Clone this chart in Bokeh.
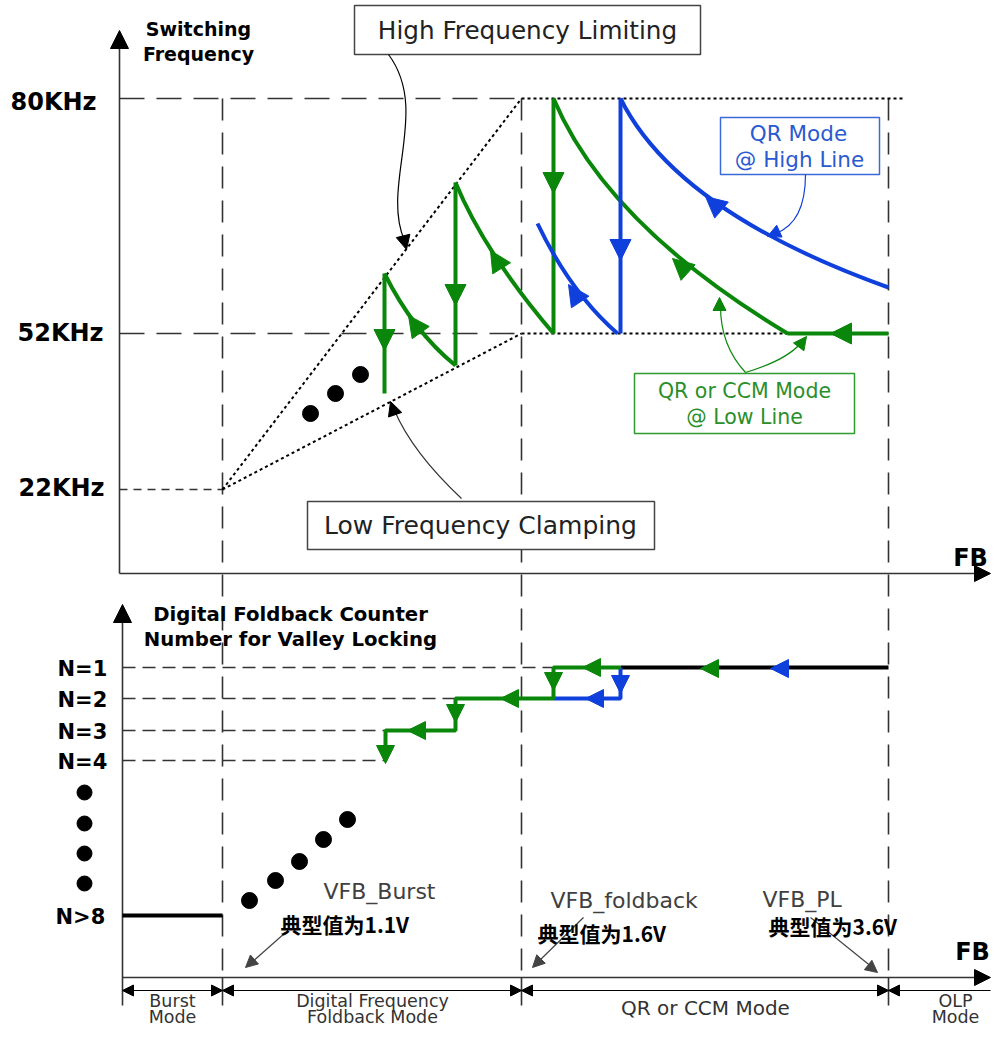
import math
from bokeh.plotting import figure
from bokeh.models import Range1d, ColumnDataSource, Arrow, NormalHead
from bokeh.core.properties import value
from bokeh.embed import file_html
from bokeh.resources import INLINE

# ---------------- data ----------------
# frequency levels (upper panel) and their schematic positions
freq_labels = ["80KHz", "52KHz", "22KHz"]
freq_y = [98, 333, 489]
freq_label_x = [10, 17, 18]

# FB thresholds
fb_x = [222, 521, 888]
fb_names = ["VFB_Burst", "VFB_foldback", "VFB_PL"]
fb_typ = ["典型值为1.1V", "典型值为1.6V", "典型值为3.6V"]

# valley-lock counter levels
n_labels = ["N=1", "N=2", "N=3", "N=4", "N>8"]
n_y = [667, 698, 730, 760, 915]

# low-line sawtooth teeth (green)
tooth_x = [384, 455, 553]
tooth_top = [273, 182, 98]
tooth_bot = [393, 365, 333]
# decay curves: start, control, end
g_curve_x0 = [384, 455, 553]
g_curve_y0 = [273, 182, 98]
g_curve_cx = [413, 484, 606]
g_curve_cy = [331, 252, 224]
g_curve_x1 = [455, 553, 787]
g_curve_y1 = [365, 333, 333]

# high-line (blue)
b_tooth_x = [620]
b_curve_x0 = [620, 537]
b_curve_y0 = [98, 223]
b_curve_cx = [676, 570]
b_curve_cy = [211, 292]
b_curve_x1 = [888, 617]
b_curve_y1 = [287, 333]

# lower panel step paths
g_step_x = [620, 553, 553, 455, 455, 385, 385]
g_step_y = [667, 667, 698, 698, 730, 730, 760]
b_step_x = [620, 620, 553]
b_step_y = [667, 698, 698]

mode_labels = [["Burst", "Mode"], ["Digital Frequency", "Foldback Mode"], ["QR or CCM Mode"], ["OLP", "Mode"]]

GREEN = "#0a870a"
BLUE = "#1040dc"
DARK = "#333333"

W, H = 991, 1028
p = figure(width=W, height=H, x_range=Range1d(0, W), y_range=Range1d(H, 0),
           output_backend="svg", toolbar_location=None, min_border=0,
           x_axis_location=None, y_axis_location=None)
p.grid.visible = False
p.outline_line_color = None
p.background_fill_color = "white"


def heads(tips, dirs, color, size):
    x0, y0, x1, y1 = [], [], [], []
    for (tx, ty), (dx, dy) in zip(tips, dirs):
        n = math.hypot(dx, dy)
        x0.append(tx - 3 * dx / n); y0.append(ty - 3 * dy / n)
        x1.append(tx); y1.append(ty)
    src = ColumnDataSource(dict(x0=x0, y0=y0, x1=x1, y1=y1))
    p.add_layout(Arrow(source=src, x_start="x0", y_start="y0", x_end="x1", y_end="y1",
                       line_alpha=0, line_width=0,
                       end=NormalHead(size=size, fill_color=color, line_color=color, line_width=1)))


def txt(xs, ys, texts, size, color="black", bold=False, align="center", font="DejaVu Sans"):
    p.text(x=xs, y=ys, text=texts, text_font=value(font), text_font_size=size,
           text_color=color, text_font_style="bold" if bold else "normal",
           text_align=align, text_baseline="middle")


top_y, axis1_y, axis2_y, tick_y = freq_y[0], 573, 977, 1005
bracket_y = 990
ax1_x, ax2_x = 119, 122
right_end = 990

# ---------- dashed reference lines ----------
p.segment(x0=[ax1_x, ax1_x], y0=freq_y[:2], x1=[fb_x[1], fb_x[1]], y1=freq_y[:2],
          line_dash="25 12", line_color=DARK, line_width=1.6)
p.segment(x0=fb_x, y0=[top_y] * 3, x1=fb_x, y1=[axis2_y] * 3,
          line_dash="22 12", line_color=DARK, line_width=1.6)
p.segment(x0=[ax1_x], y0=[freq_y[2]], x1=[fb_x[0]], y1=[freq_y[2]],
          line_dash="8 6", line_color=DARK, line_width=1.5)
p.segment(x0=[ax2_x] * 4, y0=n_y[:4], x1=[553, 455, 385, 385], y1=n_y[:4],
          line_dash="13 7", line_color=DARK, line_width=1.5)
# dotted limits
p.segment(x0=[fb_x[0], fb_x[0], fb_x[1], fb_x[1]], y0=[freq_y[2], freq_y[2], freq_y[0], freq_y[1]],
          x1=[fb_x[1], fb_x[1], 905, fb_x[2]], y1=[freq_y[0], freq_y[1], freq_y[0], freq_y[1]],
          line_dash="3 3", line_color="black", line_width=2)

# ---------- axes ----------
p.segment(x0=[ax1_x, ax1_x, ax2_x, ax2_x], y0=[45, axis1_y, 618, axis2_y],
          x1=[ax1_x, right_end - 8, ax2_x, right_end - 8], y1=[axis1_y, axis1_y, tick_y, axis2_y],
          line_color=DARK, line_width=1.6)
p.segment(x0=fb_x, y0=[axis2_y] * 3, x1=fb_x, y1=[tick_y] * 3, line_color=DARK, line_width=1.6)
heads([(ax1_x, 30), (ax2_x, 604)], [(0, -1), (0, -1)], "black", 18)
heads([(right_end, axis1_y), (right_end, axis2_y)], [(1, 0), (1, 0)], "black", 16)

# ---------- callout boxes ----------
p.quad(left=[354, 307], right=[700, 654], top=[5, 501], bottom=[54, 549],
       fill_color="white", line_color="#444444", line_width=1.5)
p.quad(left=[720], right=[879], top=[117], bottom=[174], fill_color="white", line_color="#3a6ad8", line_width=1.5)
p.quad(left=[634], right=[854], top=[373], bottom=[433], fill_color="white", line_color="#2f9a2f", line_width=1.5)

# callout connectors
p.bezier(x0=[388], y0=[54], cx0=[430], cy0=[110], cx1=[380], cy1=[185], x1=[404], y1=[240],
         line_color="black", line_width=1.2)
p.quadratic(x0=[461], y0=[498], cx=[412], cy=[452], x1=[394], y1=[410], line_color="#333333", line_width=1.2)
heads([(406, 249), (390, 401)], [(0.25, 1), (-0.35, -1)], "black", 14)
p.quadratic(x0=[805], y0=[174], cx=[805], cy=[222], x1=[775], y1=[233], line_color=BLUE, line_width=1.2)
heads([(767, 236)], [(-1, 0.45)], BLUE, 13)
p.quadratic(x0=[745, 745], y0=[372, 372], cx=[720, 785], cy=[345, 360], x1=[720, 800], y1=[306, 343],
            line_color=GREEN, line_width=1.2)
heads([(719, 297), (806, 336)], [(0, -1), (0.6, -0.8)], GREEN, 13)

# ---------- upper panel curves ----------
p.segment(x0=tooth_x, y0=tooth_top, x1=tooth_x, y1=tooth_bot, line_color=GREEN, line_width=4)
p.quadratic(x0=g_curve_x0, y0=g_curve_y0, cx=g_curve_cx, cy=g_curve_cy, x1=g_curve_x1, y1=g_curve_y1,
            line_color=GREEN, line_width=4)
p.segment(x0=[787], y0=[freq_y[1]], x1=[fb_x[2]], y1=[freq_y[1]], line_color=GREEN, line_width=4)
p.segment(x0=b_tooth_x, y0=[freq_y[0]], x1=b_tooth_x, y1=[freq_y[1]], line_color=BLUE, line_width=4)
p.quadratic(x0=b_curve_x0, y0=b_curve_y0, cx=b_curve_cx, cy=b_curve_cy, x1=b_curve_x1, y1=b_curve_y1,
            line_color=BLUE, line_width=4)
heads([(384, 350), (408, 315), (455, 305), (490, 250), (553, 193), (672, 258), (830, 333)],
      [(0, 1), (-1, -1.4), (0, 1), (-1, -1.6), (0, 1), (-1, -0.9), (-1, 0)], GREEN, 21)
heads([(620, 260), (705, 196), (568, 284)], [(0, 1), (-1, -0.85), (-1, -1.5)], BLUE, 21)

# ---------- lower panel steps ----------
p.segment(x0=[620, ax2_x], y0=[n_y[0], n_y[4]], x1=[fb_x[2], fb_x[0]], y1=[n_y[0], n_y[4]],
          line_color="black", line_width=4)
p.line(b_step_x, b_step_y, line_color=BLUE, line_width=4)
p.line(g_step_x, g_step_y, line_color=GREEN, line_width=4)
heads([(700, 668), (582, 667), (553, 690), (500, 698), (455, 722), (407, 730), (385, 763)],
      [(-1, 0), (-1, 0), (0, 1), (-1, 0), (0, 1), (-1, 0), (0, 1)], GREEN, 18)
heads([(770, 668), (620, 693), (585, 698)], [(-1, 0), (0, 1), (-1, 0)], BLUE, 18)

# ---------- dots ----------
p.scatter(x=[310, 335, 360], y=[413, 393, 374], size=16, color="black")
p.scatter(x=[249, 275, 299, 323, 347], y=[900, 880, 861, 839, 819], size=16, color="black")
p.scatter(x=[84, 84, 84, 84], y=[792, 823, 853, 883], size=15, color="black")

# ---------- threshold annotations ----------
p.segment(x0=[285, 583, 810], y0=[932, 917, 917], x1=[250, 537, 872], y1=[963, 962, 967],
          line_color="#444444", line_width=1.2)
heads([(245, 967), (532, 967), (877, 972)], [(-1, 0.9), (-1, 1), (1, 0.8)], "#444444", 12)

# mode brackets
src_mode = ColumnDataSource(dict(x0=[ax2_x, fb_x[0], fb_x[1]], x1=[fb_x[0], fb_x[1], fb_x[2]], y=[bracket_y] * 3))
p.add_layout(Arrow(source=src_mode, x_start="x0", y_start="y", x_end="x1", y_end="y",
                   line_color="black", line_width=1.2,
                   start=NormalHead(size=11, fill_color="black", line_color="black"),
                   end=NormalHead(size=11, fill_color="black", line_color="black")))
src_olp = ColumnDataSource(dict(x0=[fb_x[2]], x1=[right_end], y=[bracket_y]))
p.add_layout(Arrow(source=src_olp, x_start="x0", y_start="y", x_end="x1", y_end="y",
                   line_color="black", line_width=1.2, end=None,
                   start=NormalHead(size=11, fill_color="black", line_color="black")))

# ---------- texts ----------
txt([198, 198], [28, 53], ["Switching", "Frequency"], "19px", bold=True)
txt(freq_label_x, [y + 3 for y in [98, 329, 484]], freq_labels, "24px", bold=True, align="left")
txt([970, 972], [557, 951], ["FB", "FB"], "24px", bold=True)
txt([290, 290], [614, 639], ["Digital Foldback Counter", "Number for Valley Locking"], "19.7px", bold=True)
txt([57, 57, 57, 57, 55], [668, 699, 731, 761, 916], n_labels, "21px", bold=True, align="left")

txt([527], [30], ["High Frequency Limiting"], "24.7px", color="#222222")
txt([480], [525], ["Low Frequency Clamping"], "25px", color="#222222")
txt([798, 799], [133, 159], ["QR Mode", "@ High Line"], "21.5px", color="#2a5ad0")
txt([744, 744], [390, 416], ["QR or CCM Mode", "@ Low Line"], "20.5px", color="#2a8f2a")

txt([323, 550, 762], [891, 900, 899], fb_names, "22px", color="#404040", align="left")
txt([280, 537, 768], [923, 932, 925], fb_typ, "21px", bold=True, align="left", font="Noto Sans CJK SC")

mx = [172, 372, 705, 955]
txt([mx[0], mx[1], mx[3]], [1000, 1000, 1000],
    [mode_labels[0][0], mode_labels[1][0], mode_labels[3][0]], "17.5px", color=DARK)
txt([mx[2]], [1007], [mode_labels[2][0]], "20px", color=DARK)
txt([mx[0], mx[1], mx[3]], [1016, 1016, 1016],
    [mode_labels[0][1], mode_labels[1][1], mode_labels[3][1]], "17.5px", color=DARK)

open("out.html", "w").write(file_html(p, INLINE))
